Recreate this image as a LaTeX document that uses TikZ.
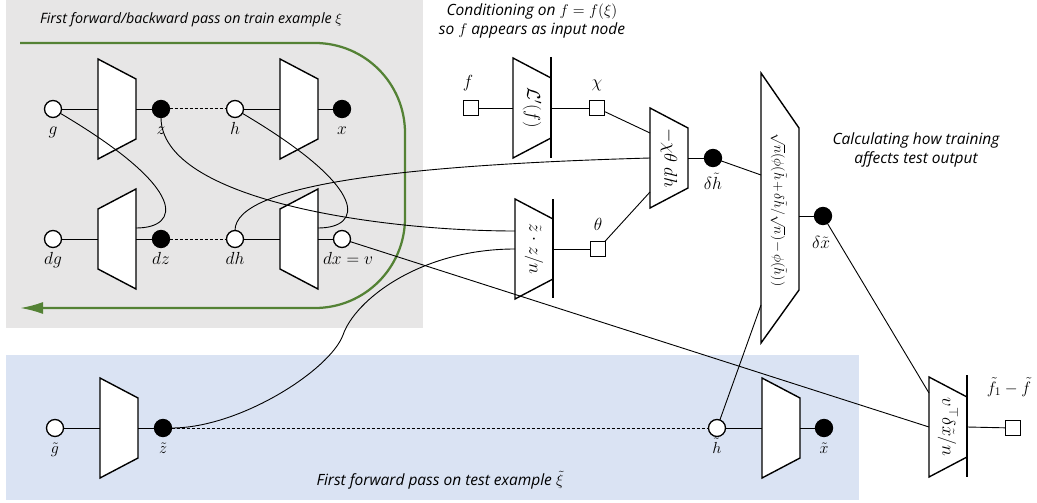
\RequirePackage{fix-cm}
\documentclass[tikz,border=0pt]{standalone}
\usepackage{fontspec}
\setsansfont{Open Sans}
\usetikzlibrary{arrows.meta}
\definecolor{bggray}{RGB}{231,230,230}
\definecolor{bgblue}{RGB}{218,227,243}
\definecolor{pgreen}{RGB}{84,130,53}
\newcommand\trapLT[3]{%
  \draw[trapz] (#2,#3-50) -- (#2+38,#3-30) -- (#2+38,#3+30) -- (#2,#3+50) -- cycle;
  \coordinate (#1w) at (#2,#3); \coordinate (#1e) at (#2+38,#3);}
\newcommand\trapRT[3]{%
  \draw[trapz] (#2,#3-30) -- (#2+38,#3-50) -- (#2+38,#3+50) -- (#2,#3+30) -- cycle;
  \coordinate (#1w) at (#2,#3); \coordinate (#1e) at (#2+38,#3);}
\begin{document}
\begin{tikzpicture}[x=1pt,y=-1pt,
  every node/.style={inner sep=0pt, outer sep=0pt},
  opencirc/.style={circle, draw, fill=white, line width=1.3pt, minimum size=17pt},
  fullcirc/.style={circle, draw, fill=black, line width=1.3pt, minimum size=17pt},
  sq/.style={rectangle, draw, fill=white, line width=1.3pt, minimum size=15pt},
  trapz/.style={draw, fill=white, line width=1.4pt, line join=miter},
  barline/.style={line width=2pt},
  conn/.style={line width=0.9pt},
  dashc/.style={line width=1pt, dash pattern=on 3pt off 2pt},
  lab/.style={font=\fontsize{17.5}{21}\selectfont, anchor=base},
  tlab/.style={font=\fontsize{16}{19}\selectfont, anchor=base},
  inlab/.style={font=\fontsize{18.5}{21}\selectfont, rotate=-90},
  biglab/.style={font=\fontsize{14}{16}\selectfont, rotate=-90},
  caption/.style={font=\sffamily\itshape\fontsize{15.5}{19}\selectfont, align=center}
]
\useasboundingbox (0,0) rectangle (1037,503);
\fill[bggray] (6,0) rectangle (423,328);
\fill[bgblue] (6,355) rectangle (859,500);
\draw[pgreen, line width=2.25pt, rounded corners=90pt, -{Latex[length=23pt,width=12pt]}]
  (20,43) -- (405,43) -- (405,308) -- (20,308);

% captions
\node[caption, anchor=west, font=\sffamily\itshape\fontsize{14.3}{19}\selectfont] (t1) at (40,20) {First forward/backward pass on train example $\xi$};
\node[caption] (t2) at (532,21) {Conditioning on $f = f(\xi)$\\so $f$ appears as input node};
\node[caption] (t3) at (916,150) {Calculating how training\\affects test output};
\node[caption] (t4) at (440,480) {First forward pass on test example $\tilde\xi$};

% trapezoids
\trapLT{A}{98}{109}
\trapLT{B}{280}{109}
\trapRT{C}{98}{239}
\trapRT{D}{280}{239}
\trapLT{E}{100}{428}
\trapLT{F}{762}{428}
\trapLT{L}{513}{108}
\trapLT{Q}{515}{249}
\trapLT{X}{650}{158}
\trapLT{V}{929}{427}
\draw[trapz] (761,73) -- (799,128) -- (799,290) -- (761,343) -- cycle;
\draw[barline] (551,57) -- (551,158);
\draw[barline] (553,199) -- (553,298);
\draw[barline] (967,375) -- (967,477);

% ports
\coordinate (Ce1) at (136,228);
\coordinate (De1) at (318,228);
\coordinate (Qw1) at (515,231);
\coordinate (Xw1) at (650,133);
\coordinate (Xw2) at (650,192);
\coordinate (Gw1) at (761,175);
\coordinate (Gw2) at (761,305);
\coordinate (Ge) at (799,216);
\coordinate (Vw1) at (929,393);
\coordinate (zmid) at (343,335);

% text in trapezoids
\node[inlab] (Lt) at (532,108) {$\mathcal{L}'(f)$};
\node[inlab] (Xt) at (669,158) {$-\chi\theta\;dh$};
\node[inlab] (Qt) at (534,249) {$\tilde z\cdot z/n$};
\node[biglab] (Gt) at (779,210) {$\medmuskip=2mu \sqrt{n}(\phi(\tilde h+\delta\tilde h/\sqrt{n})-\phi(\tilde h))$};
\node[inlab] (Vt) at (948,427) {$v^{\top}\delta\tilde x/n$};

% nodes
\node[opencirc] (g) at (53,109) {};
\node[fullcirc] (z) at (161,109) {};
\node[opencirc] (h) at (235,109) {};
\node[fullcirc] (x) at (342,109) {};
\node[opencirc] (dg) at (53,239) {};
\node[fullcirc] (dz) at (161,239) {};
\node[opencirc] (dh) at (235,239) {};
\node[opencirc] (dx) at (342,239) {};
\node[opencirc] (gt) at (55,428) {};
\node[fullcirc] (zt) at (163,428) {};
\node[opencirc] (ht) at (717,428) {};
\node[fullcirc] (xt) at (824,428) {};
\node[sq] (f) at (471,108) {};
\node[sq] (chi) at (597,108) {};
\node[sq] (th) at (598,249) {};
\node[fullcirc] (dht) at (713,158) {};
\node[fullcirc] (dxt) at (823,216) {};
\node[sq] (out) at (1013,428) {};

% straight connectors
\draw[conn] (g) -- (Aw); \draw[conn] (Ae) -- (z); \draw[dashc] (z) -- (h);
\draw[conn] (h) -- (Bw); \draw[conn] (Be) -- (x);
\draw[conn] (dg) -- (Cw); \draw[conn] (Ce) -- (dz); \draw[dashc] (dz) -- (dh);
\draw[conn] (dh) -- (Dw); \draw[conn] (De) -- (dx);
\draw[conn] (gt) -- (Ew); \draw[conn] (Ee) -- (zt); \draw[dashc] (zt) -- (ht);
\draw[conn] (ht) -- (Fw); \draw[conn] (Fe) -- (xt);
\draw[conn] (f) -- (Lw); \draw[conn] (Le) -- (chi);
\draw[conn] (Qe) -- (th);
\draw[conn] (chi) -- (Xw1); \draw[conn] (th) -- (Xw2);
\draw[conn] (Xe) -- (dht); \draw[conn] (dht) -- (Gw1);
\draw[conn] (ht) -- (Gw2);
\draw[conn] (Ge) -- (dxt); \draw[conn] (dxt) -- (Vw1);
\draw[conn] (dx) -- (Vw);
\draw[conn] (Ve) -- (out);

% curves
\draw[conn] (g) .. controls (190,190) and (180,228) .. (Ce1);
\draw[conn] (h) .. controls (372,190) and (362,228) .. (De1);
\draw[conn] (z) .. controls (161,200) and (380,231) .. (Qw1);
\draw[conn] (dh) .. controls (235,185) and (400,165) .. (Xw);
\draw[conn] (zt) .. controls (240,428) and (330,370) .. (zmid) .. controls (355,300) and (420,249) .. (Qw);

% labels
\node[lab] (lg) at (53,134) {$g$};
\node[lab] (lz) at (161,134) {$z$};
\node[lab] (lh) at (235,134) {$h$};
\node[lab] (lx) at (342,134) {$x$};
\node[lab] (ldg) at (53,264) {$dg$};
\node[lab] (ldz) at (161,264) {$dz$};
\node[lab] (ldh) at (235,264) {$dh$};
\node[lab] (ldx) at (348,264) {$dx = v$};
\node[tlab] (lgt) at (55,453) {$\tilde g$};
\node[tlab] (lzt) at (163,453) {$\tilde z$};
\node[tlab] (lht) at (717,453) {$\tilde h$};
\node[tlab] (lxt) at (824,453) {$\tilde x$};
\node[lab] (lf) at (468,88) {$f$};
\node[lab] (lchi) at (597,88) {$\chi$};
\node[lab] (lth) at (598,230) {$\theta$};
\node[lab] (ldht) at (713,189) {$\delta\tilde h$};
\node[lab] (ldxt) at (821,248) {$\delta\tilde x$};
\node[lab, font=\fontsize{16.5}{20}\selectfont] (lout) at (1009,393) {$\tilde f_1 - \tilde f$};
\end{tikzpicture}
\end{document}
